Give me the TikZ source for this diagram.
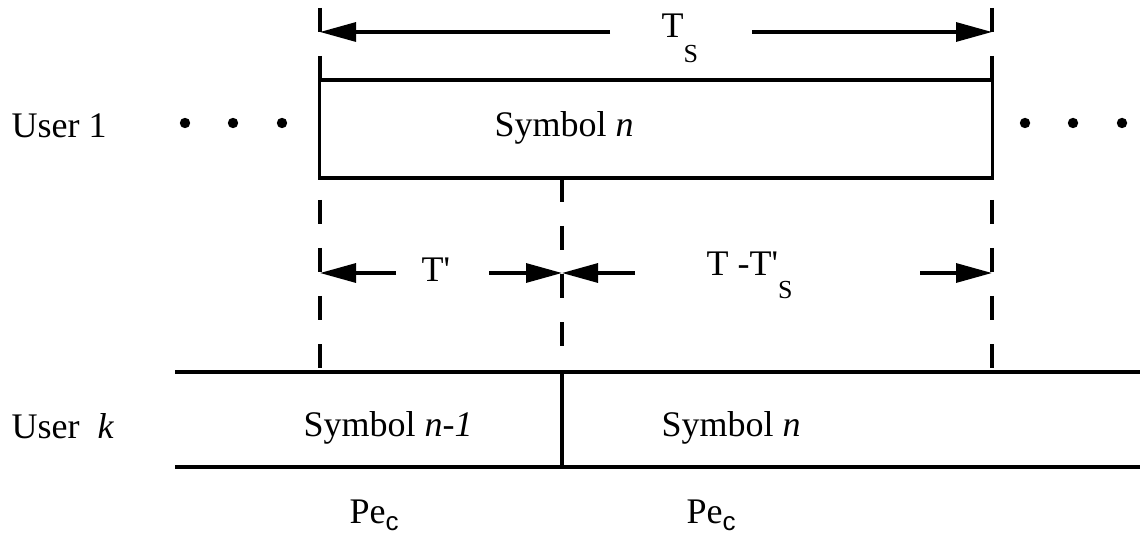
\documentclass[tikz,border=0pt]{standalone}
\usepackage{fontspec}
\setmainfont{Liberation Serif}
\newfontfamily\subsans{Liberation Sans}
\usetikzlibrary{arrows.meta}

\newcommand{\lowsub}[2]{\raisebox{#1}{\fontsize{13}{14}\selectfont #2}}

\begin{document}
\begin{tikzpicture}[x=0.5pt, y=-0.5pt, line width=1.6pt,
    lbl/.style={anchor=base west, font=\fontsize{18}{22}\selectfont, inner sep=0pt},
    dimarrow/.style={-{Triangle[length=18pt, width=9.5pt]}},
    guide/.style={dash pattern=on 12pt off 12pt}]
    \useasboundingbox (0,0) rectangle (1140,534);

    \coordinate (topL) at (320,8); \coordinate (topR) at (992,8);
    \coordinate (kL) at (320,372); \coordinate (kR) at (992,372);
    \coordinate (midU) at (562,178); \coordinate (midK) at (562,372); \coordinate (midB) at (562,467);
    \coordinate (lineTL) at (175,372); \coordinate (lineTR) at (1140,372);
    \coordinate (lineBL) at (175,467); \coordinate (lineBR) at (1140,467);

    \draw[guide] (topL) -- (kL);
    \draw[guide] (topR) -- (kR);
    \draw[guide] (midU) -- (midK);

    \node[draw, fill=white, inner sep=0pt, minimum width=336.5pt, minimum height=49pt] (box1) at (656,129) {};

    \foreach \x in {185,233,282,1025,1073,1122} \fill (\x,123) circle (2.6pt);

    \node[lbl] (user1) at (10,138) {User 1};
    \node[lbl] (sym1) at (493,137) {Symbol \textit{n}};
    \node[lbl] (ts) at (660,38) {T\lowsub{-12.5pt}{S}};
    \node[lbl] (tp) at (420,281) {T\textquotesingle};
    \node[lbl] (tdiff) at (705,276) {T -T\textquotesingle\lowsub{-11.5pt}{S}};
    \node[lbl] (userk) at (10,438) {User\ \ \textit{k}};
    \node[lbl] (symk1) at (302,436) {Symbol \textit{n-1}};
    \node[lbl] (symk2) at (660,436) {Symbol \textit{n}};
    \node[lbl] (pe1) at (348,523) {Pe\lowsub{-3.5pt}{\subsans c}};
    \node[lbl] (pe2) at (685,523) {Pe\lowsub{-3.5pt}{\subsans c}};

    \coordinate (tsA) at (610,32); \coordinate (tsB) at (752,32);
    \coordinate (edgeL1) at (320,32); \coordinate (edgeR1) at (992,32);
    \draw[dimarrow] (tsA) -- (edgeL1);
    \draw[dimarrow] (tsB) -- (edgeR1);

    \coordinate (tpA) at (396,273); \coordinate (tpB) at (489,273);
    \coordinate (tdA) at (635,273); \coordinate (tdB) at (920,273);
    \coordinate (edgeL2) at (320,273); \coordinate (edgeM2) at (562,273); \coordinate (edgeR2) at (992,273);
    \draw[dimarrow] (tpA) -- (edgeL2);
    \draw[dimarrow] (tpB) -- (edgeM2);
    \draw[dimarrow] (tdA) -- (edgeM2);
    \draw[dimarrow] (tdB) -- (edgeR2);

    \draw (lineTL) -- (lineTR);
    \draw (lineBL) -- (lineBR);
    \draw (midK) -- (midB);
\end{tikzpicture}
\end{document}
